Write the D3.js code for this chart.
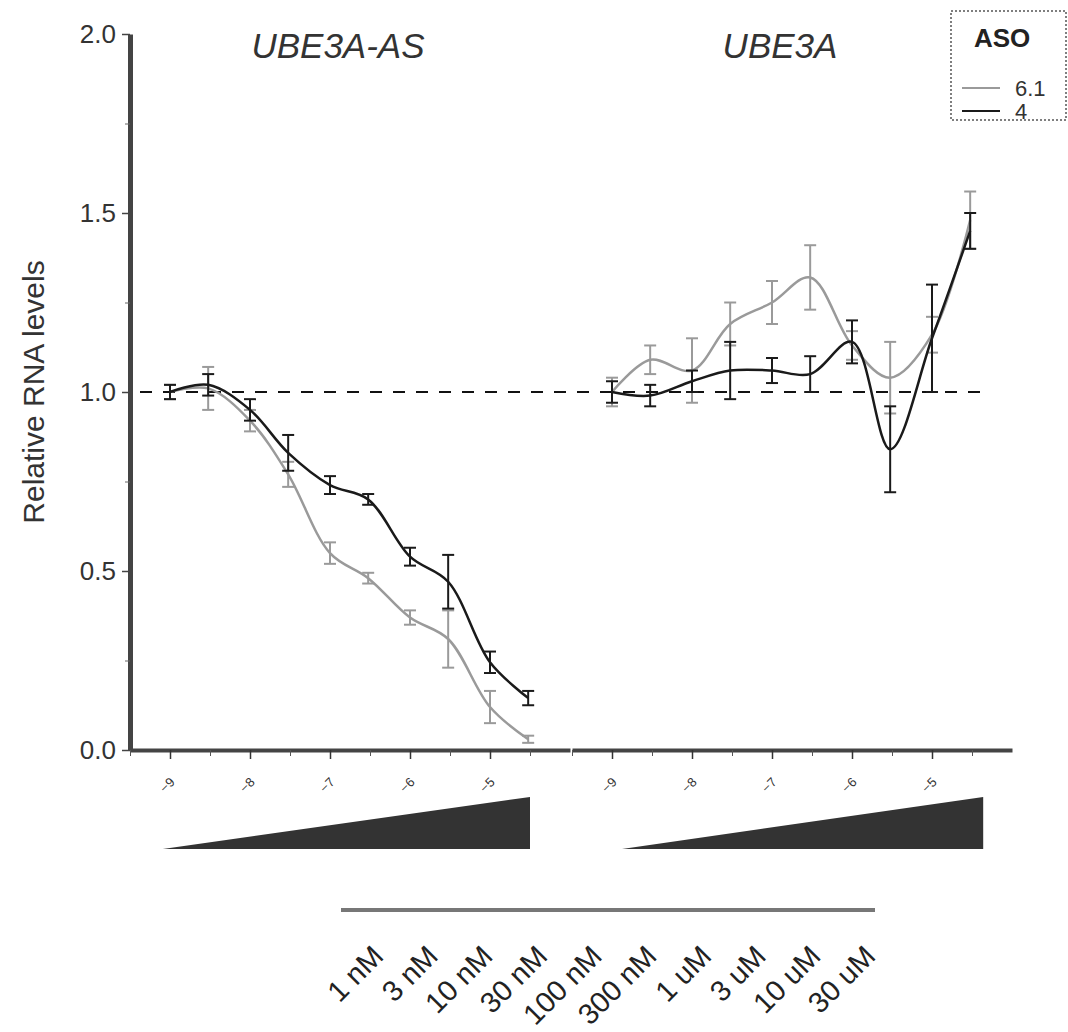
<!DOCTYPE html>
<html lang="en">
<head>
<meta charset="UTF-8" />
<title>UBE3A-AS / UBE3A dose response</title>
<script src="https://d3js.org/d3.v7.min.js"></script>
<style>
  body { margin: 0; background: #fff; }
  text { font-family: "Liberation Sans", Arial, sans-serif; fill: #222; }
</style>
</head>
<body>
<svg id="chart" width="1068" height="1032"></svg>
<script>
// concentrations (M) and their labels
const concM = [1e-9, 3e-9, 1e-8, 3e-8, 1e-7, 3e-7, 1e-6, 3e-6, 1e-5, 3e-5];
const concLabels = ["1 nM", "3 nM", "10 nM", "30 nM", "100 nM", "300 nM", "1 uM", "3 uM", "10 uM", "30 uM"];
const xTicks = [-9, -8, -7, -6, -5];
const yTicks = [0, 0.5, 1.0, 1.5, 2.0];
const asoNames = ["6.1", "4"];
const panelTitles = ["UBE3A-AS", "UBE3A"];

// UBE3A-AS, mean and error
const asMean61 = [1.00, 1.01, 0.92, 0.77, 0.55, 0.48, 0.37, 0.31, 0.12, 0.03];
const asErr61  = [0.02, 0.06, 0.03, 0.035, 0.03, 0.015, 0.02, 0.08, 0.045, 0.01];
const asMean4  = [1.00, 1.02, 0.95, 0.83, 0.74, 0.70, 0.54, 0.47, 0.245, 0.145];
const asErr4   = [0.02, 0.03, 0.03, 0.05, 0.025, 0.015, 0.025, 0.075, 0.03, 0.02];

// UBE3A, mean and error
const ubeMean61 = [1.00, 1.09, 1.06, 1.19, 1.25, 1.32, 1.13, 1.04, 1.16, 1.48];
const ubeErr61  = [0.04, 0.04, 0.09, 0.06, 0.06, 0.09, 0.04, 0.10, 0.05, 0.08];
const ubeMean4  = [1.00, 0.99, 1.03, 1.06, 1.06, 1.05, 1.14, 0.84, 1.15, 1.45];
const ubeErr4   = [0.03, 0.03, 0.03, 0.08, 0.035, 0.05, 0.06, 0.12, 0.15, 0.05];

// dose wedges, in log10 units of each panel
const wedgeL = [-9.09, -4.5];
const wedgeR = [-8.875, -4.36];

const colors = { "6.1": "#9a9a9a", "4": "#1a1a1a" };

const svg = d3.select("#chart");

const y = d3.scaleLinear().domain([0, 2]).range([750, 34]);
const xL = d3.scaleLinear().domain([-9.5, -4]).range([130, 570]);
const xR = d3.scaleLinear().domain([-9.5, -4]).range([572, 1012]);

const logC = concM.map(c => Math.log10(c));

// dashed reference line at 1.0
svg.append("line")
  .attr("x1", 140).attr("x2", 990)
  .attr("y1", y(1)).attr("y2", y(1))
  .attr("stroke", "#111").attr("stroke-width", 2)
  .attr("stroke-dasharray", "12,11");

// y axis
const yAxis = svg.append("g").attr("transform", "translate(130,0)");
yAxis.call(d3.axisLeft(y).tickValues(yTicks).tickSize(8).tickSizeOuter(0).tickFormat(d3.format(".1f")));
yAxis.select(".domain").attr("stroke", "#444").attr("stroke-width", 5);
yAxis.selectAll(".tick line").attr("stroke", "#444").attr("stroke-width", 1.5);
yAxis.selectAll(".tick text").attr("font-size", 26).attr("x", -14).style("fill", "#333");
const yMinor = svg.append("g").attr("transform", "translate(130,0)");
yMinor.call(d3.axisLeft(y).tickValues([0.25, 0.75, 1.25, 1.75]).tickSize(5).tickFormat(""));
yMinor.select(".domain").remove();
yMinor.selectAll(".tick line").attr("stroke", "#666");

svg.append("text")
  .attr("transform", `translate(44,${y(1)}) rotate(-90)`)
  .attr("text-anchor", "middle")
  .attr("font-size", 30)
  .style("fill", "#333")
  .text("Relative RNA levels");

// x axes for both panels
function drawXAxis(x) {
  const g = svg.append("g").attr("transform", "translate(0,750)");
  g.call(d3.axisBottom(x).tickValues(xTicks).tickSize(9).tickSizeOuter(0).tickFormat(d3.format("d")));
  g.select(".domain").attr("stroke", "#444").attr("stroke-width", 4);
  g.selectAll(".tick line").attr("stroke", "#333").attr("stroke-width", 1.5);
  g.selectAll(".tick text")
    .attr("font-size", 13)
    .attr("text-anchor", "end")
    .attr("x", 0).attr("y", 0).attr("dy", 0)
    .attr("transform", "translate(5,33) rotate(-45)")
    .style("fill", "#333");
  const m = svg.append("g").attr("transform", "translate(0,750)");
  m.call(d3.axisBottom(x).tickValues(d3.range(-9.5, -3.9, 1)).tickSize(6).tickFormat(""));
  m.select(".domain").remove();
  m.selectAll(".tick line").attr("stroke", "#555");
}
drawXAxis(xL);
drawXAxis(xR);

// titles
[[xL, panelTitles[0]], [xR, panelTitles[1]]].forEach(([x, t]) => {
  svg.append("text")
    .attr("x", x(-6.9)).attr("y", 58)
    .attr("text-anchor", "middle")
    .attr("font-size", 35)
    .attr("font-style", "italic")
    .style("fill", "#333")
    .text(t);
});

// series
const series = [
  { x: xL, name: "6.1", mean: asMean61, err: asErr61 },
  { x: xL, name: "4", mean: asMean4, err: asErr4 },
  { x: xR, name: "6.1", mean: ubeMean61, err: ubeErr61 },
  { x: xR, name: "4", mean: ubeMean4, err: ubeErr4 }
];

const line = d3.line().curve(d3.curveCatmullRom.alpha(0.5));

series.forEach(s => {
  const pts = logC.map((lc, i) => ({ lc, m: s.mean[i], e: s.err[i] }));
  const col = colors[s.name];
  svg.append("path")
    .attr("d", line(pts.map(p => [s.x(p.lc), y(p.m)])))
    .attr("fill", "none")
    .attr("stroke", col)
    .attr("stroke-width", 2.5);
  const eb = svg.append("g").attr("stroke", col).attr("stroke-width", 2);
  pts.forEach(p => {
    const cx = s.x(p.lc);
    eb.append("line").attr("x1", cx).attr("x2", cx).attr("y1", y(p.m - p.e)).attr("y2", y(p.m + p.e));
    [p.m - p.e, p.m + p.e].forEach(v => {
      eb.append("line").attr("x1", cx - 6).attr("x2", cx + 6).attr("y1", y(v)).attr("y2", y(v));
    });
  });
});

// dose wedges
[[xL, wedgeL], [xR, wedgeR]].forEach(([x, w]) => {
  const x0 = x(w[0]), x1 = x(w[1]);
  svg.append("path")
    .attr("d", `M${x0},849 L${x1},797 L${x1},849 Z`)
    .attr("fill", "#333");
});

// legend
const lg = svg.append("g");
lg.append("rect")
  .attr("x", 951).attr("y", 11).attr("width", 115).attr("height", 109)
  .attr("fill", "none").attr("stroke", "#555").attr("stroke-width", 1.5)
  .attr("stroke-dasharray", "2,2");
lg.append("text").attr("x", 974).attr("y", 47)
  .attr("font-size", 26).attr("font-weight", "bold").style("fill", "#222").text("ASO");
asoNames.forEach((n, i) => {
  const ly = 88 + i * 23;
  lg.append("line").attr("x1", 962).attr("x2", 1000).attr("y1", ly).attr("y2", ly)
    .attr("stroke", colors[n]).attr("stroke-width", 2);
  lg.append("text").attr("x", 1015).attr("y", ly + 8)
    .attr("font-size", 22).style("fill", "#333").text(n);
});

// concentration bar and labels
svg.append("line")
  .attr("x1", 341).attr("x2", 875).attr("y1", 910).attr("y2", 910)
  .attr("stroke", "#777").attr("stroke-width", 4);

const lx = d3.scalePoint().domain(concLabels).range([385, 877]);
concLabels.forEach(t => {
  svg.append("text")
    .attr("transform", `translate(${lx(t)},958) rotate(-45)`)
    .attr("text-anchor", "end")
    .attr("font-size", 29)
    .style("fill", "#222")
    .text(t);
});
</script>
</body>
</html>
